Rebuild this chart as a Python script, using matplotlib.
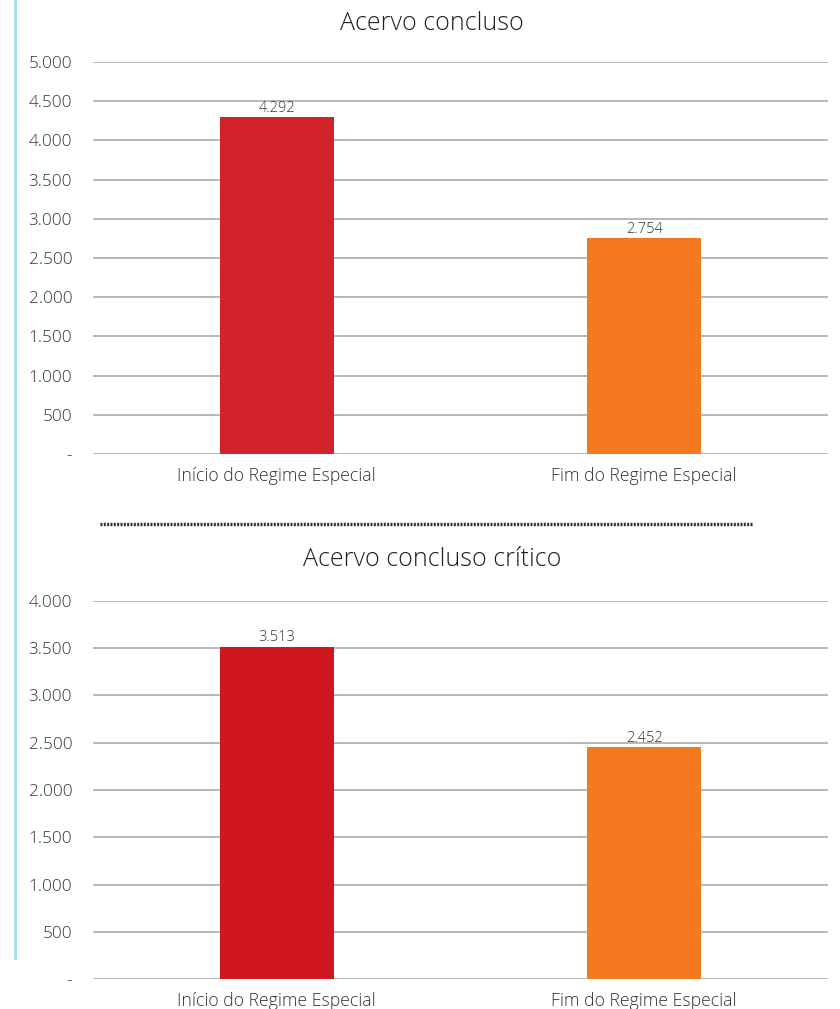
import matplotlib.pyplot as plt
from matplotlib.lines import Line2D
from matplotlib.ticker import FuncFormatter

plt.rcParams['font.family'] = ['Open Sans', 'DejaVu Sans']
plt.rcParams['font.weight'] = 'light'

categories = ["Início do Regime Especial", "Fim do Regime Especial"]
acervo = [4292, 2754]
acervo_critico = [3513, 2452]
titles = ["Acervo concluso", "Acervo concluso crítico"]
ymax = [5000, 4000]
red_top = "#D2232A"
red_bottom = "#D0171F"
orange = "#F47920"
text_col = "#333333"


def fmt(v, pos=None):
    if v == 0:
        return "-"
    return f"{int(v):,}".replace(",", ".")


def draw(ax, values, top, red):
    x = range(len(categories))
    bars = ax.bar(x, values, width=0.31, color=[red, orange], zorder=3)
    for b, v in zip(bars, values):
        ax.text(b.get_x() + b.get_width() / 2, v + top * 0.004, fmt(v),
                ha="center", va="bottom", fontsize=10.5, color=text_col)
    ax.set_xlim(-0.5, 1.5)
    ax.set_ylim(0, top)
    ax.set_yticks(range(0, top + 1, 500))
    ax.yaxis.set_major_formatter(FuncFormatter(fmt))
    ax.set_xticks(list(x))
    ax.set_xticklabels(categories)
    ax.grid(axis="y", color="#A6A6A6", lw=1.1, zorder=0)
    for s in ax.spines.values():
        s.set_visible(False)
    ax.tick_params(axis="both", length=0, colors=text_col)
    ax.tick_params(axis="y", pad=15, labelsize=12.3)
    ax.tick_params(axis="x", pad=9, labelsize=12.7)


fig = plt.figure(figsize=(8.4, 10.09), dpi=100)
ax1 = fig.add_axes([0.1107, 0.5500, 0.875, 0.3886])
ax2 = fig.add_axes([0.1107, 0.0297, 0.875, 0.3747])
draw(ax1, acervo, ymax[0], red_top)
draw(ax2, acervo_critico, ymax[1], red_bottom)
fig.text(432 / 840, 1 - 23 / 1009, titles[0], ha="center", va="center",
         fontsize=18, color="#1F1F1F")
fig.text(432 / 840, 1 - 559 / 1009, titles[1], ha="center", va="center",
         fontsize=18, color="#1F1F1F")

# left accent line and separator
fig.add_artist(Line2D([15 / 840, 15 / 840], [1, 1 - 958 / 1009],
                      color="#A8DDE8", lw=2))
fig.add_artist(Line2D([100 / 840, 752 / 840], [1 - 524 / 1009] * 2,
                      color="#2E2E2E", lw=2.4, ls=(0, (0.6, 0.4))))

fig.savefig("out.png", dpi=100)
